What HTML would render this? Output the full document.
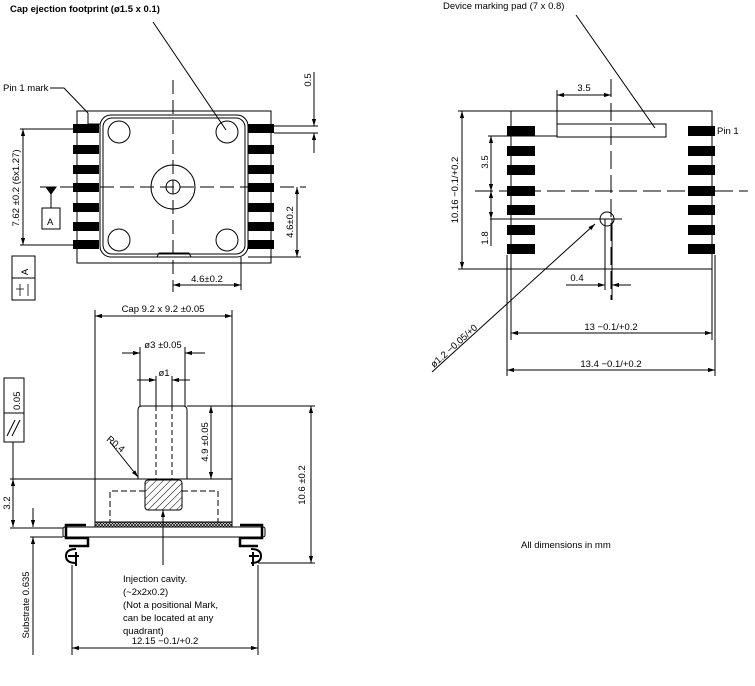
<!DOCTYPE html>
<html><head><meta charset="utf-8"><style>
html,body{margin:0;padding:0;background:#fff}
svg{display:block}
text{font-family:"Liberation Sans",sans-serif;font-size:9.5px;fill:#000}
</style></head><body>
<svg width="755" height="686" viewBox="0 0 755 686" xmlns="http://www.w3.org/2000/svg">
<defs>
<marker id="a" viewBox="0 0 10 10" refX="10" refY="5" markerWidth="7" markerHeight="7" orient="auto-start-reverse"><path d="M0,2 L10,5 L0,8z" fill="#000"/></marker>
<pattern id="h" width="5" height="5" patternUnits="userSpaceOnUse" patternTransform="rotate(45)"><line x1="0" y1="0" x2="0" y2="5" stroke="#000" stroke-width="1"/></pattern>
<pattern id="x" width="3" height="3" patternUnits="userSpaceOnUse"><rect width="3" height="3" fill="#fff"/><path d="M0,0L3,3M3,0L0,3" stroke="#000" stroke-width="0.7"/></pattern>
</defs>
<g stroke="#000" fill="none" stroke-width="1">
<rect x="77" y="111" width="194" height="152"/>
<rect x="100" y="115" width="148" height="142" rx="11"/>
<rect x="103" y="118" width="142" height="136" rx="9"/>
<path d="M88,113 L88,124 L100,124"/>
<circle cx="119" cy="132" r="11"/><circle cx="227" cy="132" r="11"/>
<circle cx="119" cy="240" r="11"/><circle cx="227" cy="240" r="11"/>
<circle cx="173" cy="187" r="22"/><circle cx="173" cy="187" r="7"/>
<path d="M157,257 L159,253 L189,253 L191,257"/>
<g fill="#000" stroke="none">
<rect x="73" y="124" width="26" height="9"/><rect x="73" y="145" width="26" height="9"/><rect x="73" y="165" width="26" height="9"/><rect x="73" y="183" width="26" height="9"/><rect x="73" y="203" width="26" height="9"/><rect x="73" y="222" width="26" height="9"/><rect x="73" y="240" width="26" height="9"/>
<rect x="248" y="124" width="26" height="9"/><rect x="248" y="145" width="26" height="9"/><rect x="248" y="165" width="26" height="9"/><rect x="248" y="183" width="26" height="9"/><rect x="248" y="203" width="26" height="9"/><rect x="248" y="222" width="26" height="9"/><rect x="248" y="240" width="26" height="9"/>
</g>
<line x1="40" y1="187" x2="306" y2="187" stroke-dasharray="14,6"/>
<line x1="173" y1="80" x2="173" y2="292" stroke-dasharray="14,6"/>
<path d="M46,187 L56,187 L51,194z" fill="#000"/>
<line x1="51" y1="194" x2="51" y2="208"/>
<rect x="42" y="208" width="18" height="21"/>
<line x1="20" y1="129" x2="73" y2="129"/><line x1="20" y1="245" x2="73" y2="245"/>
<line x1="23" y1="129" x2="23" y2="245" marker-start="url(#a)" marker-end="url(#a)"/>
<line x1="297" y1="187" x2="297" y2="257" marker-start="url(#a)" marker-end="url(#a)"/>
<line x1="248" y1="257" x2="301" y2="257"/>
<line x1="241" y1="257" x2="241" y2="290"/>
<line x1="173" y1="285" x2="241" y2="285" marker-start="url(#a)" marker-end="url(#a)"/>
<line x1="274" y1="126" x2="318" y2="126"/><line x1="274" y1="133" x2="318" y2="133"/>
<line x1="314" y1="72" x2="314" y2="126" marker-end="url(#a)"/>
<line x1="314" y1="153" x2="314" y2="133" marker-end="url(#a)"/>
<rect x="12" y="256" width="23" height="44"/><line x1="12" y1="278" x2="35" y2="278"/>
<path d="M20,284 v12 M24,289 h-8 M28,284 v12" stroke-width="0.8"/>
<path d="M50,88 L64,88 L88,113"/>
<line x1="153" y1="22" x2="226" y2="130"/>
<rect x="511" y="111" width="201" height="158"/>
<rect x="557" y="124" width="109" height="13"/>
<g fill="#000" stroke="none">
<rect x="507" y="126" width="28" height="10"/><rect x="507" y="146" width="28" height="10"/><rect x="507" y="165" width="28" height="10"/><rect x="507" y="186" width="28" height="10"/><rect x="507" y="205" width="28" height="10"/><rect x="507" y="225" width="28" height="10"/><rect x="507" y="244" width="28" height="10"/>
<rect x="688" y="126" width="27" height="10"/><rect x="688" y="146" width="27" height="10"/><rect x="688" y="165" width="27" height="10"/><rect x="688" y="186" width="27" height="10"/><rect x="688" y="205" width="27" height="10"/><rect x="688" y="225" width="27" height="10"/><rect x="688" y="244" width="27" height="10"/>
</g>
<line x1="611" y1="79" x2="611" y2="300" stroke-dasharray="18,6"/>
<line x1="475" y1="191" x2="748" y2="191" stroke-dasharray="18,6"/>
<circle cx="607" cy="219" r="7"/>
<line x1="490" y1="219" x2="622" y2="219"/>
<line x1="557" y1="90" x2="557" y2="124"/>
<line x1="557" y1="95" x2="611" y2="95" marker-start="url(#a)" marker-end="url(#a)"/>
<line x1="458" y1="111" x2="511" y2="111"/><line x1="458" y1="269" x2="511" y2="269"/>
<line x1="462" y1="111" x2="462" y2="269" marker-start="url(#a)" marker-end="url(#a)"/>
<line x1="488" y1="136" x2="557" y2="136"/>
<line x1="491" y1="136" x2="491" y2="191" marker-start="url(#a)" marker-end="url(#a)"/>
<line x1="491" y1="191" x2="491" y2="246"/>
<line x1="491" y1="191" x2="491" y2="219" marker-start="url(#a)" marker-end="url(#a)"/>
<line x1="605" y1="219" x2="605" y2="290"/><line x1="612" y1="219" x2="612" y2="300"/>
<line x1="566" y1="285" x2="605" y2="285" marker-end="url(#a)"/>
<line x1="631" y1="285" x2="612" y2="285" marker-end="url(#a)"/>
<line x1="511" y1="269" x2="511" y2="340"/><line x1="712" y1="269" x2="712" y2="340"/>
<line x1="507" y1="255" x2="507" y2="376"/><line x1="715" y1="255" x2="715" y2="376"/>
<line x1="511" y1="333" x2="712" y2="333" marker-start="url(#a)" marker-end="url(#a)"/>
<line x1="507" y1="370" x2="715" y2="370" marker-start="url(#a)" marker-end="url(#a)"/>
<line x1="432" y1="372" x2="595" y2="224" marker-end="url(#a)"/>
<line x1="576" y1="15" x2="655" y2="128"/>
<rect x="95" y="479" width="137" height="43"/>
<path d="M138,479 V410 Q138,406 142,406 H183 Q187,406 187,410 V479"/>
<line x1="156" y1="406" x2="156" y2="479" stroke-dasharray="5,3"/>
<line x1="172" y1="406" x2="172" y2="479" stroke-dasharray="5,3"/>
<rect x="145" y="480" width="37" height="30" rx="3" fill="url(#h)"/>
<path d="M145,491 H110 V522 M182,491 H218 V522" stroke-dasharray="6,3"/>
<rect x="95" y="522" width="137" height="5" fill="url(#x)"/>
<rect x="63" y="527" width="202" height="10" rx="2"/>
<path d="M86,525 H66 V538 H88 V546 H69" stroke-width="2.5"/>
<path d="M240,525 H262 V538 H240 V546 H258" stroke-width="2.5"/>
<path d="M76,549 Q66,549 66,556 Q66,563 76,563 M68,556 H79 M76,552 V566" stroke-width="2"/>
<path d="M251,549 Q261,549 261,556 Q261,563 251,563 M249,556 H259 M253,552 V566" stroke-width="2"/>
<line x1="95" y1="310" x2="95" y2="479"/><line x1="232" y1="310" x2="232" y2="479"/>
<line x1="95" y1="316" x2="232" y2="316" marker-start="url(#a)" marker-end="url(#a)"/>
<line x1="140" y1="347" x2="140" y2="406"/><line x1="185" y1="347" x2="185" y2="406"/>
<line x1="122" y1="353" x2="140" y2="353" marker-end="url(#a)"/>
<line x1="205" y1="353" x2="185" y2="353" marker-end="url(#a)"/>
<line x1="156" y1="376" x2="156" y2="406"/><line x1="172" y1="376" x2="172" y2="406"/>
<line x1="137" y1="380" x2="156" y2="380" marker-end="url(#a)"/>
<line x1="190" y1="380" x2="172" y2="380" marker-end="url(#a)"/>
<line x1="187" y1="406" x2="315" y2="406"/>
<line x1="211" y1="406" x2="211" y2="479" marker-start="url(#a)" marker-end="url(#a)"/>
<line x1="311" y1="406" x2="311" y2="563" marker-start="url(#a)" marker-end="url(#a)"/>
<line x1="258" y1="563" x2="315" y2="563"/>
<line x1="10" y1="479" x2="95" y2="479"/>
<line x1="13" y1="479" x2="13" y2="527" marker-start="url(#a)" marker-end="url(#a)"/>
<line x1="10" y1="528" x2="63" y2="528"/><line x1="30" y1="537" x2="63" y2="537"/>
<line x1="33" y1="508" x2="33" y2="527" marker-end="url(#a)"/>
<line x1="33" y1="655" x2="33" y2="537" marker-end="url(#a)"/>
<rect x="4" y="378" width="20" height="64"/><line x1="4" y1="413" x2="24" y2="413"/>
<path d="M7,436 L15,420 M12,436 L20,420"/>
<line x1="13" y1="442" x2="13" y2="479"/>
<line x1="163" y1="565" x2="163" y2="510" marker-end="url(#a)"/>
<line x1="72" y1="565" x2="72" y2="655"/><line x1="258" y1="565" x2="258" y2="655"/>
<line x1="72" y1="648" x2="258" y2="648" marker-start="url(#a)" marker-end="url(#a)"/>
<line x1="110" y1="442" x2="138" y2="477" marker-end="url(#a)"/>
</g>
<text x="10" y="12" font-weight="bold">Cap ejection footprint (ø1.5 x 0.1)</text>
<text x="3" y="91">Pin 1 mark</text>
<text x="47" y="225" font-size="12">A</text>
<text transform="translate(28,272) rotate(-90)" font-size="12" text-anchor="middle">A</text>
<text transform="translate(19,188) rotate(-90)" text-anchor="middle">7.62 ±0.2  (6x1.27)</text>
<text transform="translate(293,222) rotate(-90)" text-anchor="middle">4.6±0.2</text>
<text x="207" y="282" text-anchor="middle">4.6±0.2</text>
<text transform="translate(311,80) rotate(-90)" text-anchor="middle">0.5</text>
<text x="443" y="9">Device marking pad (7 x 0.8)</text>
<text x="584" y="91" text-anchor="middle">3.5</text>
<text x="717" y="134">Pin 1</text>
<text transform="translate(458,190) rotate(-90)" text-anchor="middle">10.16 −0.1/+0.2</text>
<text transform="translate(488,162) rotate(-90)" text-anchor="middle">3.5</text>
<text transform="translate(488,238) rotate(-90)" text-anchor="middle">1.8</text>
<text x="577" y="281" text-anchor="middle">0.4</text>
<text x="611" y="330" text-anchor="middle">13 −0.1/+0.2</text>
<text x="611" y="367" text-anchor="middle">13.4 −0.1/+0.2</text>
<text transform="translate(434,368) rotate(-42)">ø1.2 −0.05/+0</text>
<text x="163" y="312" text-anchor="middle">Cap 9.2 x 9.2 ±0.05</text>
<text x="163" y="348" text-anchor="middle">ø3 ±0.05</text>
<text x="164" y="376" text-anchor="middle">ø1</text>
<text transform="translate(208,442) rotate(-90)" text-anchor="middle">4.9 ±0.05</text>
<text transform="translate(305,485) rotate(-90)" text-anchor="middle">10.6 ±0.2</text>
<text transform="translate(106,440) rotate(40)">R0.4</text>
<text transform="translate(10,503) rotate(-90)" text-anchor="middle">3.2</text>
<text transform="translate(29,605) rotate(-90)" text-anchor="middle">Substrate 0.635</text>
<text transform="translate(20,410) rotate(-90)" font-size="12">0.05</text>
<text x="123" y="582">Injection cavity.</text>
<text x="123" y="595">(~2x2x0.2)</text>
<text x="123" y="608">(Not a positional Mark,</text>
<text x="123" y="621">can be located at any</text>
<text x="123" y="634">quadrant)</text>
<text x="165" y="644" text-anchor="middle">12.15 −0.1/+0.2</text>
<text x="521" y="548" font-size="13">All dimensions in mm</text>
</svg>
</body></html>
